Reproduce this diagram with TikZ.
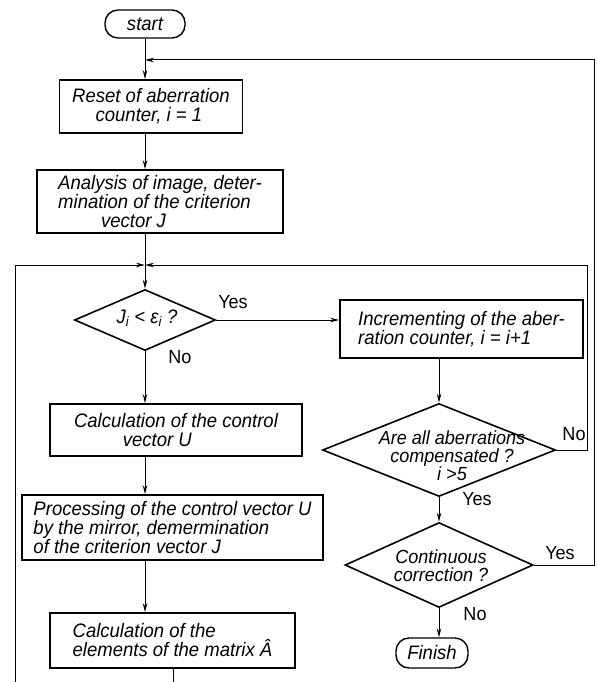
\documentclass[tikz,border=0pt]{standalone}
\usepackage{fontspec}
\usetikzlibrary{shapes.geometric,arrows.meta}
\newfontfamily\lettfont[FakeStretch=0.95]{Liberation Sans}
\newcommand\boxfont{\lettfont\itshape\fontsize{19.5}{19}\selectfont}
\newcommand\diafont{\lettfont\itshape\fontsize{19}{18}\selectfont}
\newcommand\labfont{\lettfont\fontsize{19}{19}\selectfont}
\begin{document}
\begin{tikzpicture}[x=1pt,y=-1pt,
  box/.style={draw, line width=1.6pt, inner sep=2pt, font=\boxfont, align=left},
  term/.style={draw, line width=1.4pt, rounded corners=13pt, inner sep=2pt, font=\boxfont},
  dia/.style={draw, diamond, line width=1.6pt, inner sep=0pt},
  dtext/.style={font=\diafont, align=center, inner sep=0pt},
  lab/.style={font=\labfont, inner sep=0pt},
  conn/.style={line width=1pt, -{Stealth[length=9pt,width=4.5pt]}},
  plain/.style={line width=1pt}]
\useasboundingbox (0,0) rectangle (597,682);
% left column
\node[term, minimum width=80, minimum height=28] (start) at (145,24) {start};
\node[box, minimum width=183, minimum height=53] (reset) at (151,106.5)
  {Reset of aberration\\\hspace*{1.2em}counter, i = 1};
\node[box, minimum width=246, minimum height=63] (analysis) at (160,201.5)
  {Analysis of image, deter-\\mination of the criterion\\\hspace*{2.2em}vector J};
\node[dia, minimum width=141, minimum height=61] (d1) at (145,320) {};
\node[dtext, font=\boxfont] (d1t) at (147,318) {J\textsubscript{i} < ε\textsubscript{i} ?};
\node[box, minimum width=252, minimum height=52] (calcU) at (176,430)
  {Calculation of the control\\\hspace*{2.5em}vector U};
\node[box, minimum width=301, minimum height=65] (proc) at (172.5,527.5)
  {Processing of the control vector U\\by the mirror, demermination\\of the criterion vector J};
\node[box, minimum width=245, minimum height=55] (calcA) at (172.5,640.5)
  {Calculation of the\\elements of the matrix Â};
% right column
\node[box, minimum width=243, minimum height=58] (incr) at (461.5,329)
  {Incrementing of the aber-\\ration counter, i = i+1};
\node[dia, minimum width=233, minimum height=93] (d2) at (439,450) {};
\node[dtext] (d2t) at (452,456) {Are all aberrations\\compensated ?\\i >5};
\node[dia, minimum width=188, minimum height=85] (d3) at (439,565) {};
\node[dtext] (d3t) at (441,566) {Continuous\\correction ?};
\node[term, minimum width=72, minimum height=30] (finish) at (432,653) {Finish};
% labels
\node[lab] (y1) at (233,302) {Yes};
\node[lab] (n1) at (180,357) {No};
\node[lab] (n2) at (574,434) {No};
\node[lab] (y2) at (477,499) {Yes};
\node[lab] (y3) at (560,553) {Yes};
\node[lab] (n3) at (475,614) {No};
% coordinates
\coordinate (J0) at (145,60);
\coordinate (J) at (145,265);
\coordinate (outerR) at (594,60);
\coordinate (innerR) at (587,265);
\coordinate (bl) at (15,682);
\coordinate (bA) at (173,682);
% connectors
\draw[conn] (start.south) -- (start.south |- reset.north);
\draw[conn] (reset.south -| start) -- (analysis.north -| start);
\draw[conn] (analysis.south -| start) -- (d1.north);
\draw[conn] (d1.south) -- (d1.south |- calcU.north);
\draw[conn] (calcU.south -| d1) -- (proc.north -| d1);
\draw[conn] (proc.south -| d1) -- (calcA.north -| d1);
\draw[plain] (calcA.south -| bA) -- (bA);
\draw[conn] (bl) |- (J);
\draw[conn] (d1.east) -- (incr.west |- d1.east);
\draw[conn] (incr.south -| d2) -- (d2.north);
\draw[conn] (d2.south) -- (d3.north);
\draw[conn] (d3.south) -- (d3.south |- finish.north);
\draw[conn] (d2.east) -| (innerR) -- (J);
\draw[conn] (d3.east) -| (outerR) -- (J0);
\end{tikzpicture}
\end{document}
